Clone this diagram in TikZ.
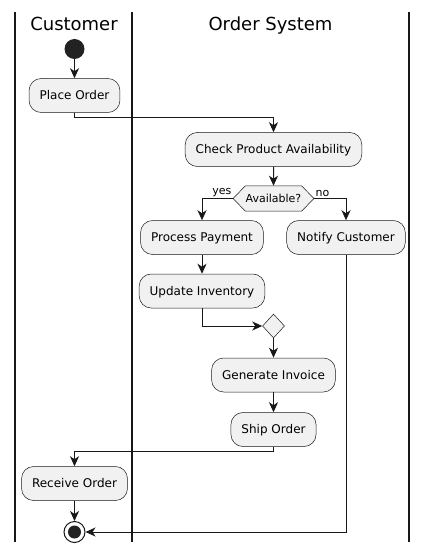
\documentclass[tikz,border=0pt]{standalone}
\usepackage{fontspec}
\setmainfont{DejaVu Sans}
\usepackage{tikz}
\usetikzlibrary{arrows.meta,shapes.geometric,shapes.symbols}
\definecolor{boxfill}{HTML}{F1F1F1}
\definecolor{linecol}{HTML}{181818}
\definecolor{startcol}{HTML}{222222}

\begin{document}
\begin{tikzpicture}[x=1pt,y=-1pt]
  \tikzset{ActivityStyle/.style = {
    shape           = rectangle,
    rounded corners = 12pt,
    draw            = linecol,
    fill            = boxfill,
    line width      = 0.5pt,
    text            = black,
    font            = \fontsize{12}{14}\selectfont,
    inner xsep      = 10.5pt,
    inner ysep      = 0pt,
    text height     = 8.75pt,
    text depth      = 0pt,
    minimum height  = 34pt
    }
  }
  \tikzset{DecisionStyle/.style = {
    shape               = signal,
    signal to           = west and east,
    signal pointer angle = 92,
    draw                = linecol,
    fill                = boxfill,
    line width          = 0.5pt,
    font                = \fontsize{11}{13}\selectfont,
    inner sep           = 0.5pt,
    text height         = 8pt,
    text depth          = 0pt,
    minimum height      = 25pt
    }
  }
  \tikzset{MergeStyle/.style = {
    shape          = diamond,
    draw           = linecol,
    fill           = boxfill,
    line width     = 0.5pt,
    inner sep      = 0pt,
    minimum width  = 22pt,
    minimum height = 24pt
    }
  }
  \tikzset{EdgeStyle/.style = {
    draw       = linecol,
    line width = 1pt,
    -{Stealth[length=10pt, width=9pt, inset=3pt]}
    }
  }
  \tikzset{EdgeLabelStyle/.style = {
    font      = \fontsize{11}{13}\selectfont,
    inner sep = 1pt
    }
  }
  \tikzset{LaneStyle/.style = {
    draw       = linecol,
    line width = 1.5pt
    }
  }
  \tikzset{LaneTitleStyle/.style = {
    font   = \fontsize{18}{22}\selectfont,
    anchor = base
    }
  }

  \useasboundingbox (0,0) rectangle (428,553);
  \foreach \x in {15,132,409} \draw[LaneStyle] (\x,12) -- (\x,542);
  \node[LaneTitleStyle](T1) at (74,31) {Customer};
  \node[LaneTitleStyle](T2) at (270.5,31) {Order System};

  \node[circle, fill=startcol, inner sep=0pt, minimum size=20pt](start) at (74.5,49) {};
  \node[ActivityStyle](place) at (74.5,95.5) {Place Order};
  \node[ActivityStyle](check) at (273.5,149.5) {Check Product Availability};
  \node[DecisionStyle](avail) at (273.5,198.5) {Available?};
  \node[ActivityStyle](pay) at (202,237.5) {Process Payment};
  \node[ActivityStyle](notify) at (346,237.5) {Notify Customer};
  \node[ActivityStyle](inv) at (202,291) {Update Inventory};
  \node[MergeStyle](merge) at (273.5,326) {};
  \node[ActivityStyle](invoice) at (273.5,375) {Generate Invoice};
  \node[ActivityStyle](ship) at (273.5,429.5) {Ship Order};
  \node[ActivityStyle](receive) at (74.5,483.5) {Receive Order};
  \node[circle, draw=linecol, line width=1pt, fill=white, inner sep=0pt, minimum size=21pt](stop) at (74.5,532) {};
  \fill[startcol] (stop.center) circle[radius=6.5pt];

  \draw[EdgeStyle](start) -- (place);
  \draw[EdgeStyle](place.south) -- ++(0,5) -| (check.north);
  \draw[EdgeStyle](check) -- (avail);
  \draw[EdgeStyle](avail.west) node[EdgeLabelStyle, anchor=south east]{yes} -| (pay.north);
  \draw[EdgeStyle](avail.east) node[EdgeLabelStyle, anchor=south west]{no} -| (notify.north);
  \draw[EdgeStyle](pay) -- (inv);
  \draw[EdgeStyle](inv.south) |- (merge.west);
  \draw[EdgeStyle](merge) -- (invoice);
  \draw[EdgeStyle](invoice) -- (ship);
  \draw[EdgeStyle](ship.south) -- ++(0,5) -| (receive.north);
  \draw[EdgeStyle](receive) -- (stop);
  \draw[EdgeStyle](notify.south) |- (stop.east);
\end{tikzpicture}
\end{document}
